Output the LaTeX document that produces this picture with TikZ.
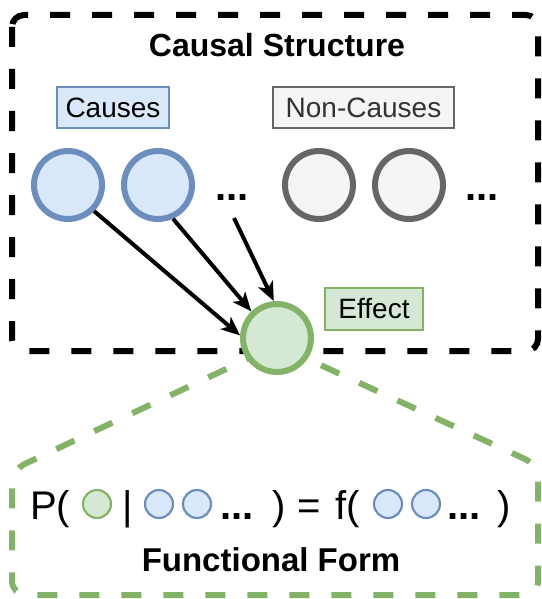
\documentclass[tikz,border=0pt]{standalone}
\usepackage{fontspec}
\setmainfont{Liberation Sans}
\usetikzlibrary{arrows.meta}
\definecolor{bluefill}{HTML}{DAE8FC}
\definecolor{bluedraw}{HTML}{6C8EBF}
\definecolor{grayfill}{HTML}{F5F5F5}
\definecolor{graydraw}{HTML}{666666}
\definecolor{greenfill}{HTML}{D5E8D4}
\definecolor{greendraw}{HTML}{82B366}
\newcommand{\fs}[1]{\fontsize{#1}{#1}\selectfont}
\tikzset{
  frame/.style={line width=6pt, dash pattern=on 20pt off 22pt, rounded corners=12pt},
  bignode/.style={circle, minimum size=68pt, inner sep=0pt, line width=6pt},
  causenode/.style={bignode, draw=bluedraw, fill=bluefill},
  noncausenode/.style={bignode, draw=graydraw, fill=grayfill},
  effectnode/.style={bignode, draw=greendraw, fill=greenfill},
  labelbox/.style={draw, line width=1.5pt, inner sep=0pt, font=\fs{28}},
  dotstext/.style={font=\fs{40}\bfseries, anchor=base, inner sep=0pt},
  arrowline/.style={line width=4pt, -{Stealth[length=19pt,width=16pt,inset=5pt]}},
  smallc/.style={circle, minimum size=28pt, inner sep=0pt, line width=2.2pt},
  eqtext/.style={font=\fs{40}, anchor=base, inner sep=0pt},
}
\begin{document}
\begin{tikzpicture}[x=1pt,y=-1pt]
\useasboundingbox (0,0) rectangle (541,599);
% causal structure frame
\draw[frame] (12,15) rectangle (538,351);
% functional form frame
\draw[frame, draw=greendraw, rounded corners=14pt] (277,345) -- (12,470) -- (12,595) -- (538,595) -- (538,465) -- cycle;

\node[font=\fs{32}\bfseries] (title) at (277,45) {Causal Structure};

\node[labelbox, draw=bluedraw, fill=bluefill, minimum width=112pt, minimum height=41pt] (causes) at (113,107.5) {Causes};
\node[labelbox, draw=graydraw, fill=grayfill, text=black!80, minimum width=181pt, minimum height=41pt] (noncauses) at (363.5,107.5) {Non-Causes};

\node[causenode] (c1) at (68,185) {};
\node[causenode] (c2) at (158,185) {};
\node[dotstext] (d1) at (232,200) {...};
\node[noncausenode] (n1) at (319,185) {};
\node[noncausenode] (n2) at (409,185) {};
\node[dotstext] (d2) at (482,200) {...};

\node[effectnode] (e) at (277,338) {};
\node[labelbox, draw=greendraw, fill=greenfill, minimum width=98pt, minimum height=42pt] (effect) at (374,309) {Effect};

\coordinate (s3) at (234,218);
\draw[arrowline] (c1.-45) -- (e.176);
\draw[arrowline] (c2.-66) -- (e.134);
\draw[arrowline] (s3) -- (e.95);

% equation
\node[eqtext, anchor=base west] (p) at (30,519) {P(};
\node[smallc, draw=greendraw, fill=greenfill] (g1) at (97,504) {};
\node[eqtext] (bar) at (128,519) {|};
\node[smallc, draw=bluedraw, fill=bluefill] (b1) at (159,504) {};
\node[smallc, draw=bluedraw, fill=bluefill] (b2) at (197,504) {};
\node[dotstext] (d3) at (237,519) {...};
\node[eqtext] (rp1) at (279,519) {)};
\node[eqtext] (eq) at (309,519) {=};
\node[eqtext] (f) at (348,519) {f(};
\node[smallc, draw=bluedraw, fill=bluefill] (b3) at (388,504) {};
\node[smallc, draw=bluedraw, fill=bluefill] (b4) at (426,504) {};
\node[dotstext] (d4) at (464,519) {...};
\node[eqtext] (rp2) at (504,519) {)};

\node[font=\fs{33}\bfseries] (ff) at (271,560) {Functional Form};
\end{tikzpicture}
\end{document}
